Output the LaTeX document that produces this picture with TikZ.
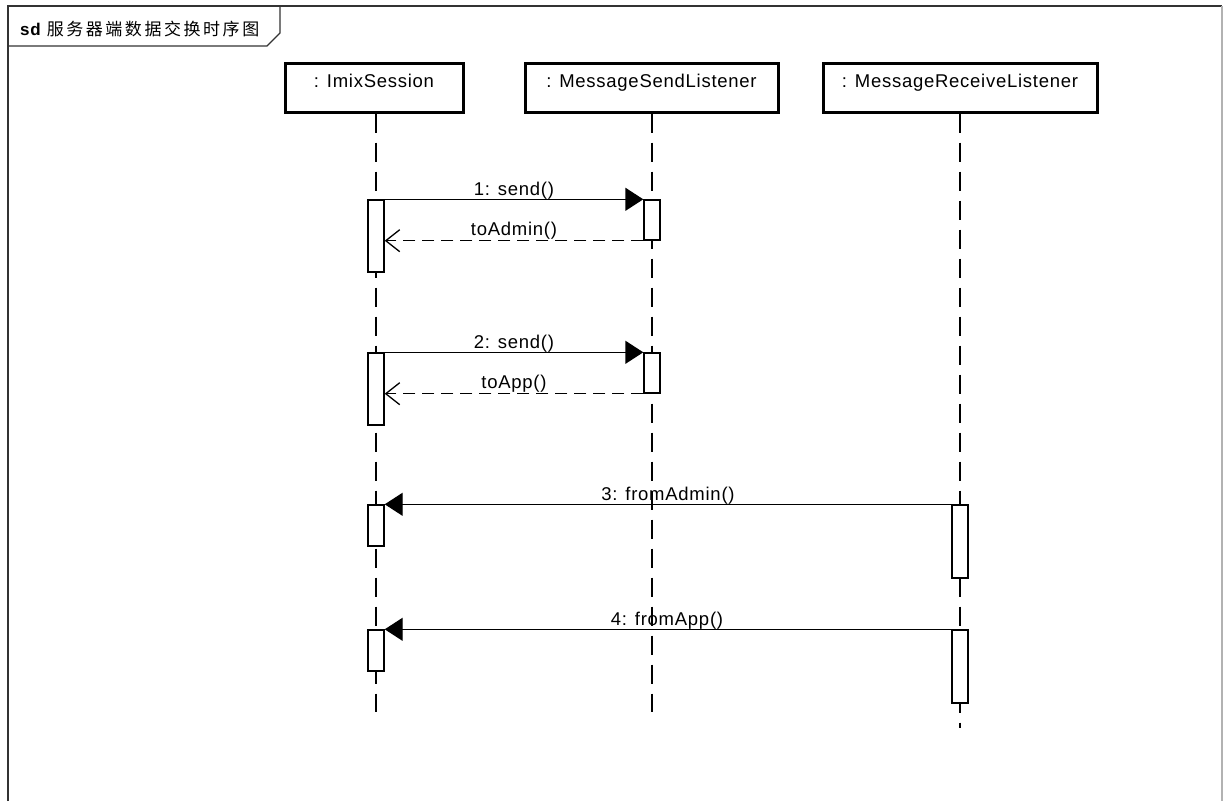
\documentclass[tikz,border=0pt]{standalone}
\usepackage{fontspec}
\setmainfont{Liberation Sans}[LetterSpace=4]
\newfontfamily\cjk{Noto Sans CJK SC}[LetterSpace=15]
\usetikzlibrary{arrows.meta}
\tikzset{
  x=1pt, y=-1pt,
  every node/.style={font=\fontsize{18.5}{22}\selectfont},
  head/.style={draw=black, line width=3pt, minimum width=178pt, minimum height=49pt, inner sep=0pt, text height=12pt, text depth=12pt},
  lifeline/.style={line width=1.3pt, dash pattern=on 19pt off 10pt},
  actbar/.style={draw=black, fill=white, line width=1.4pt, minimum width=16pt, inner sep=0pt},
  callmsg/.style={line width=1.4pt, -{Triangle[length=18pt,width=23pt]}},
  retmsg/.style={line width=1.3pt, dash pattern=on 12pt off 7pt, -{Straight Barb[length=14pt,width=22pt]}},
  msglabel/.style={anchor=base, inner sep=0pt},
  framel/.style={draw=black!80, line width=2pt},
}
\begin{document}
\begin{tikzpicture}
\useasboundingbox (0,0) rectangle (1223,801);
% frame
\draw[framel] (8,801) -- (8,6) -- (1222,6);
\draw[black!30, line width=1.5pt] (1222,6) -- (1222,801);
\draw[draw=black!80, line width=1.3pt] (8,6) -- (280,6) -- (280,33) -- (267,46) -- (8,46);
\node[anchor=base west, inner sep=0pt] (title) at (20,35) {\fontsize{17}{20}\selectfont\textbf{sd} \cjk 服务器端数据交换时序图};
% heads
\node[head] (h1) at (374,87.5) {: ImixSession};
\node[head, minimum width=253pt] (h2) at (651.5,87.5) {: MessageSendListener};
\node[head, minimum width=274pt] (h3) at (960,87.5) {: MessageReceiveListener};
% lifeline ends
\coordinate (e1) at (376,712);
\coordinate (e2) at (652,712);
\coordinate (e3) at (960,728);
\draw[lifeline] (h1.south -| e1) -- (e1);
\draw[lifeline] (h2.south -| e2) -- (e2);
\draw[lifeline] (h3.south -| e3) -- (e3);
% activation bars
\node[actbar, minimum height=72pt] (a1) at (376,236) {};
\node[actbar, minimum height=40pt] (b1) at (652,220) {};
\node[actbar, minimum height=72pt] (a2) at (376,389) {};
\node[actbar, minimum height=40pt] (b2) at (652,373) {};
\node[actbar, minimum height=41pt] (a3) at (376,525.5) {};
\node[actbar, minimum height=73pt] (c3) at (960,541.5) {};
\node[actbar, minimum height=41pt] (a4) at (376,650.5) {};
\node[actbar, minimum height=73pt] (c4) at (960,666.5) {};
% messages
\draw[callmsg] (a1.north east) -- (b1.north west);
\node[msglabel] (m1) at (514,195) {1: send()};
\draw[retmsg] (b1.south west) -- (a1.east |- b1.south west);
\node[msglabel] (r1) at (514,235) {toAdmin()};
\draw[callmsg] (a2.north east) -- (b2.north west);
\node[msglabel] (m2) at (514,348) {2: send()};
\draw[retmsg] (b2.south west) -- (a2.east |- b2.south west);
\node[msglabel] (r2) at (514,388) {toApp()};
\draw[callmsg] (c3.north west) -- (a3.north east);
\node[msglabel] (m3) at (668,500) {3: fromAdmin()};
\draw[callmsg] (c4.north west) -- (a4.north east);
\node[msglabel] (m4) at (667,625) {4: fromApp()};
\end{tikzpicture}
\end{document}
